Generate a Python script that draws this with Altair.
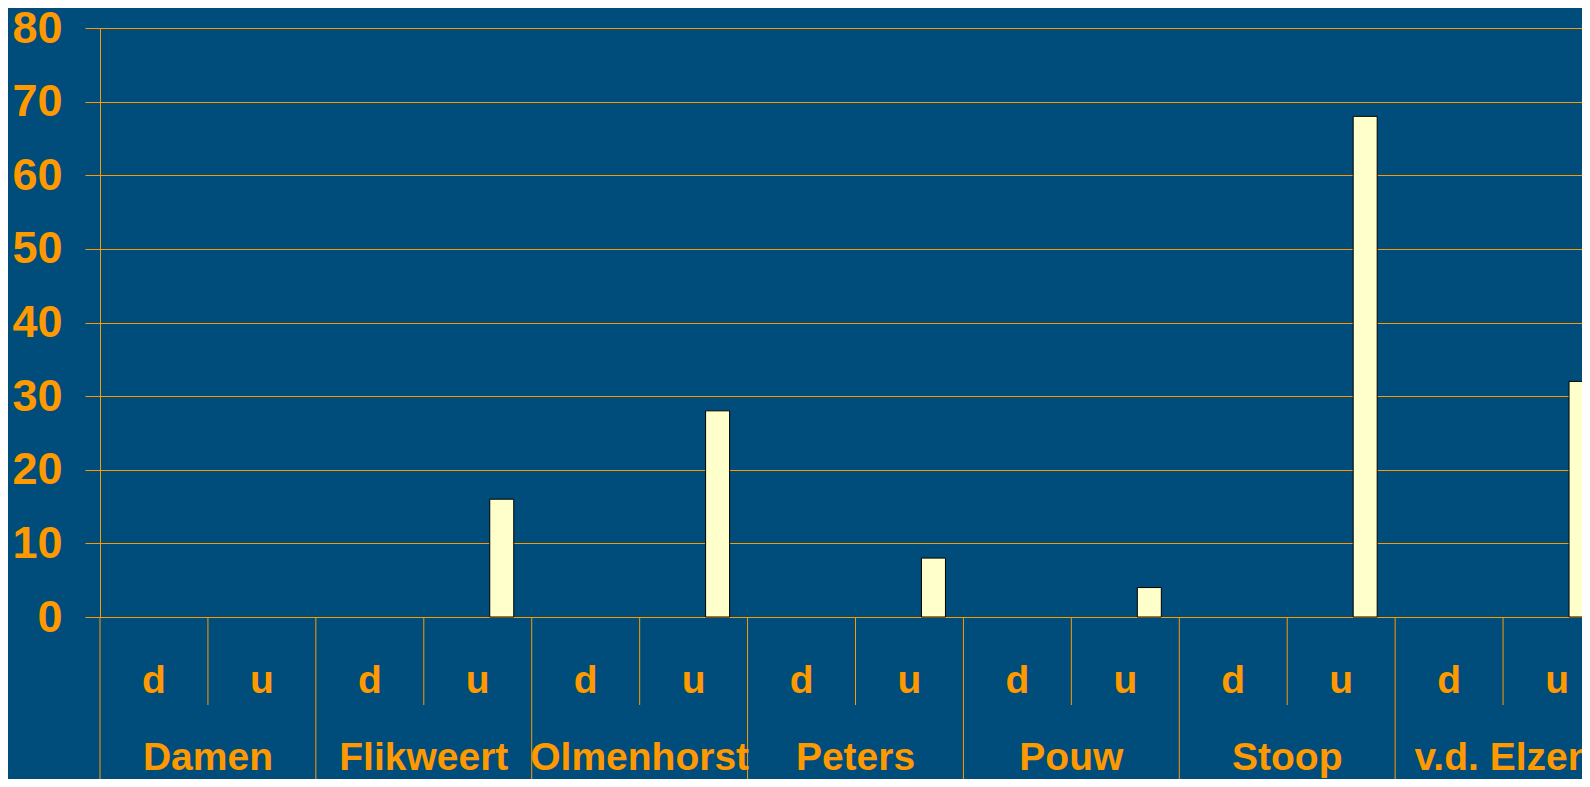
import altair as alt
import pandas as pd

names = ["Damen", "Flikweert", "Olmenhorst", "Peters", "Pouw", "Stoop", "v.d. Elzen"]
subs = ["d", "u"]
d_values = [0, 0, 0, 0, 0, 0, 0]
u_values = [0, 16, 28, 8, 4, 68, 32]
y_ticks = [0, 10, 20, 30, 40, 50, 60, 70, 80]

rows = []
for i, n in enumerate(names):
    rows.append({"name": n, "sub": "d", "cat": n + "|d", "value": d_values[i]})
    rows.append({"name": n, "sub": "u", "cat": n + "|u", "value": u_values[i]})
df = pd.DataFrame(rows)
cats = list(df["cat"])

BG = "#004C7A"
OR = "#FF9900"
FONT = "Liberation Sans"
W = 1482
H = 589

xscale = alt.Scale(domain=cats, range=[0, 1511], paddingInner=0, paddingOuter=0)
yscale = alt.Scale(domain=[0, 80], nice=False)

base = alt.Chart(df)

bars = base.transform_filter("datum.value > 0").mark_bar(
    width=24, xOffset=24, fill="#FFFFCC", stroke="black", strokeWidth=1
).encode(
    x=alt.X("cat:N", scale=xscale, axis=None, sort=None),
    y=alt.Y(
        "value:Q",
        scale=yscale,
        axis=alt.Axis(
            values=y_ticks,
            title=None,
            grid=True,
            gridColor=OR,
            gridWidth=1,
            gridOpacity=1,
            domain=True,
            domainColor=OR,
            domainWidth=1,
            ticks=True,
            tickColor=OR,
            tickSize=15,
            tickWidth=1,
            labelColor=OR,
            labelFont=FONT,
            labelFontSize=45,
            labelFontWeight="bold",
            labelPadding=23,
        ),
    ),
)

inner_sep = base.transform_filter("datum.sub == 'u'").mark_rule(
    color=OR, strokeWidth=1
).encode(
    x=alt.X("cat:N", scale=xscale, axis=None, bandPosition=0, sort=None),
    y=alt.value(H),
    y2=alt.value(H + 88),
)

outer_sep = base.transform_filter("datum.sub == 'd'").mark_rule(
    color=OR, strokeWidth=1
).encode(
    x=alt.X("cat:N", scale=xscale, axis=None, bandPosition=0, sort=None),
    y=alt.value(H),
    y2=alt.value(H + 200),
)

sub_text = base.mark_text(
    font=FONT, fontSize=39, fontWeight="bold", color=OR,
    align="center", baseline="alphabetic"
).encode(
    x=alt.X("cat:N", scale=xscale, axis=None, sort=None),
    y=alt.value(H + 76),
    text="sub:N",
)

name_text = base.transform_filter("datum.sub == 'u'").mark_text(
    font=FONT, fontSize=39, fontWeight="bold", color=OR,
    align="center", baseline="alphabetic"
).encode(
    x=alt.X("cat:N", scale=xscale, axis=None, bandPosition=0, sort=None),
    y=alt.value(H + 153),
    text="name:N",
)

chart = alt.layer(bars, inner_sep, outer_sep, sub_text, name_text).properties(
    width=W,
    height=H,
    autosize=alt.AutoSizeParams(type="none"),
    padding={"left": 92, "top": 20, "right": 0, "bottom": 162},
    background=BG,
).configure_view(stroke=None)

chart.save("out.html", embed_options={"renderer": "svg", "actions": False})
